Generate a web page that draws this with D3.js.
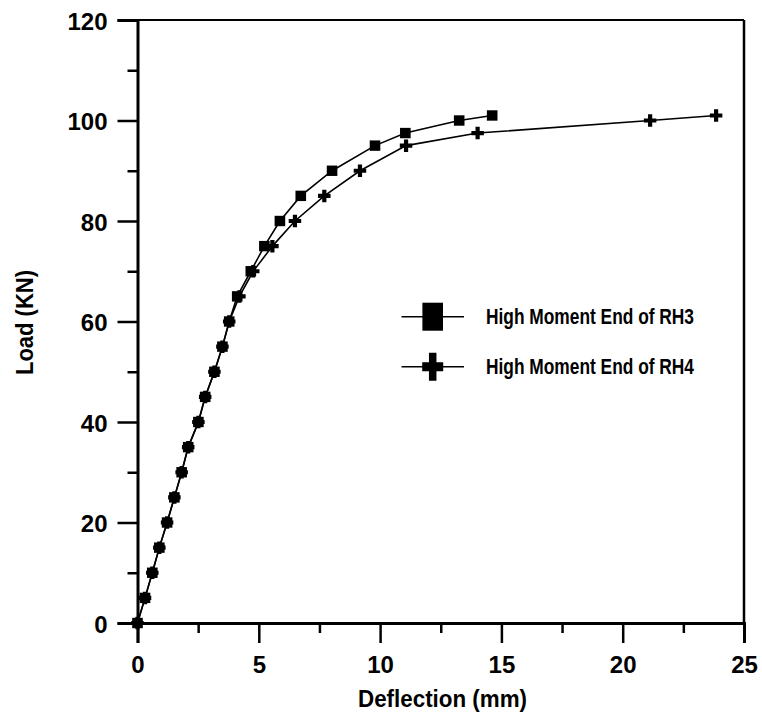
<!DOCTYPE html>
<html><head><meta charset="utf-8">
<script src="https://cdn.jsdelivr.net/npm/d3@7"></script>
<style>html,body{margin:0;padding:0;background:#fff;}svg{display:block;}</style>
</head><body>
<svg id="chart" width="762" height="715"></svg>
<script>
const rh3Load = [0,5,10,15,20,25,30,35,40,45,50,55,60,65,70,75,80,85,90,95,97.5,100,101];
const rh3Defl = [0,0.31,0.61,0.90,1.22,1.52,1.82,2.09,2.51,2.79,3.17,3.50,3.78,4.11,4.67,5.23,5.87,6.73,8.02,9.79,11.04,13.26,14.62];
const rh4Load = [0,5,10,15,20,25,30,35,40,45,50,55,60,65,70,75,80,85,90,95,97.5,100,101];
const rh4Defl = [0,0.31,0.61,0.90,1.22,1.52,1.82,2.09,2.51,2.79,3.17,3.50,3.78,4.20,4.77,5.56,6.49,7.70,9.17,11.07,14.02,21.13,23.85];
const xTicks = [0,5,10,15,20,25];
const yTicks = [0,20,40,60,80,100,120];
const seriesNames = ["High Moment End of RH3","High Moment End of RH4"];

const svg = d3.select("#chart");
const x = d3.scaleLinear().domain([0,25]).range([137.5,744]);
const y = d3.scaleLinear().domain([0,120]).range([623,20]);
const FONT = "'Liberation Sans', Arial, Helvetica, sans-serif";

// frame top & right
svg.append("line").attr("x1",x(0)).attr("x2",x(25)).attr("y1",y(120)).attr("y2",y(120)).attr("stroke","#000").attr("stroke-width",2);
svg.append("line").attr("x1",x(25)).attr("x2",x(25)).attr("y1",y(120)).attr("y2",y(0)).attr("stroke","#000").attr("stroke-width",2.5);

// x axis
const xAxis = d3.axisBottom(x).tickValues(d3.range(0,25.01,2.5)).tickSize(20).tickFormat(d => xTicks.includes(d) ? d : "");
const gx = svg.append("g").attr("transform",`translate(0,${y(0)})`).call(xAxis);
gx.select(".domain").attr("stroke-width",3);
gx.selectAll(".tick line").attr("stroke-width",2.5).attr("y2", d => xTicks.includes(d) ? 20 : 10);
gx.selectAll(".tick text").attr("font-family",FONT).attr("font-weight","bold").attr("font-size",24).attr("fill","#000").attr("y",33).attr("dy","0.71em");

// y axis
const yAxis = d3.axisLeft(y).tickValues(d3.range(0,120.01,10)).tickSize(20).tickFormat(d => yTicks.includes(d) ? d : "");
const gy = svg.append("g").attr("transform",`translate(${x(0)},0)`).call(yAxis);
gy.select(".domain").attr("stroke-width",3);
gy.selectAll(".tick line").attr("stroke-width",2.5).attr("x2", d => yTicks.includes(d) ? -20 : -10);
gy.selectAll(".tick text").attr("font-family",FONT).attr("font-weight","bold").attr("font-size",24).attr("fill","#000").attr("x",-30).attr("dy","0.38em");

// axis titles
svg.append("text").attr("x",442.5).attr("y",706.5).attr("text-anchor","middle")
  .attr("font-family",FONT).attr("font-weight","bold").attr("font-size",23)
  .attr("textLength",169).attr("lengthAdjust","spacingAndGlyphs").text("Deflection (mm)");
svg.append("text").attr("transform","translate(33,322.5) rotate(-90)").attr("text-anchor","middle")
  .attr("font-family",FONT).attr("font-weight","bold").attr("font-size",23)
  .attr("textLength",105).attr("lengthAdjust","spacingAndGlyphs").text("Load (KN)");

const rh3 = rh3Load.map((l,i)=>({x:rh3Defl[i],y:l}));
const rh4 = rh4Load.map((l,i)=>({x:rh4Defl[i],y:l}));
const line = d3.line().x(d=>x(d.x)).y(d=>y(d.y));
svg.append("path").datum(rh3).attr("d",line).attr("fill","none").attr("stroke","#000").attr("stroke-width",1.6);
svg.append("path").datum(rh4).attr("d",line).attr("fill","none").attr("stroke","#000").attr("stroke-width",1.6);

function plusPath(w,h,t1,t2){ // w: horizontal arm width, h vertical height, t1 horizontal arm thickness, t2 vertical thickness
  const a=w/2,b=h/2,c=t1/2,e=t2/2;
  return `M${-e},${-b}H${e}V${-c}H${a}V${c}H${e}V${b}H${-e}V${c}H${-a}V${-c}H${-e}Z`;
}
svg.append("g").selectAll("rect").data(rh3).join("rect")
  .attr("x",d=>x(d.x)-5.3).attr("y",d=>y(d.y)-5.2).attr("width",10.6).attr("height",10.4).attr("fill","#000");
svg.append("g").selectAll("path").data(rh4).join("path")
  .attr("transform",d=>`translate(${x(d.x)},${y(d.y)})`).attr("d",plusPath(12.5,12.5,4.2,4.2)).attr("fill","#000");

// legend
const lg = svg.append("g");
const rows = [316.7, 366.7];
rows.forEach((ry,i)=>{
  lg.append("line").attr("x1",401.5).attr("x2",464).attr("y1",ry).attr("y2",ry).attr("stroke","#000").attr("stroke-width",1.6);
  if(i===0){
    lg.append("rect").attr("x",432.7-10.3).attr("y",ry-14).attr("width",20.6).attr("height",28).attr("fill","#000");
  } else {
    lg.append("path").attr("transform",`translate(432.7,${ry})`).attr("d",plusPath(21,28,9,7.5)).attr("fill","#000");
  }
  lg.append("text").attr("x",486).attr("y",ry+7).attr("font-family",FONT).attr("font-weight","bold").attr("font-size",21.5)
    .attr("textLength",208).attr("lengthAdjust","spacingAndGlyphs").text(seriesNames[i]);
});
</script>
</body></html>
